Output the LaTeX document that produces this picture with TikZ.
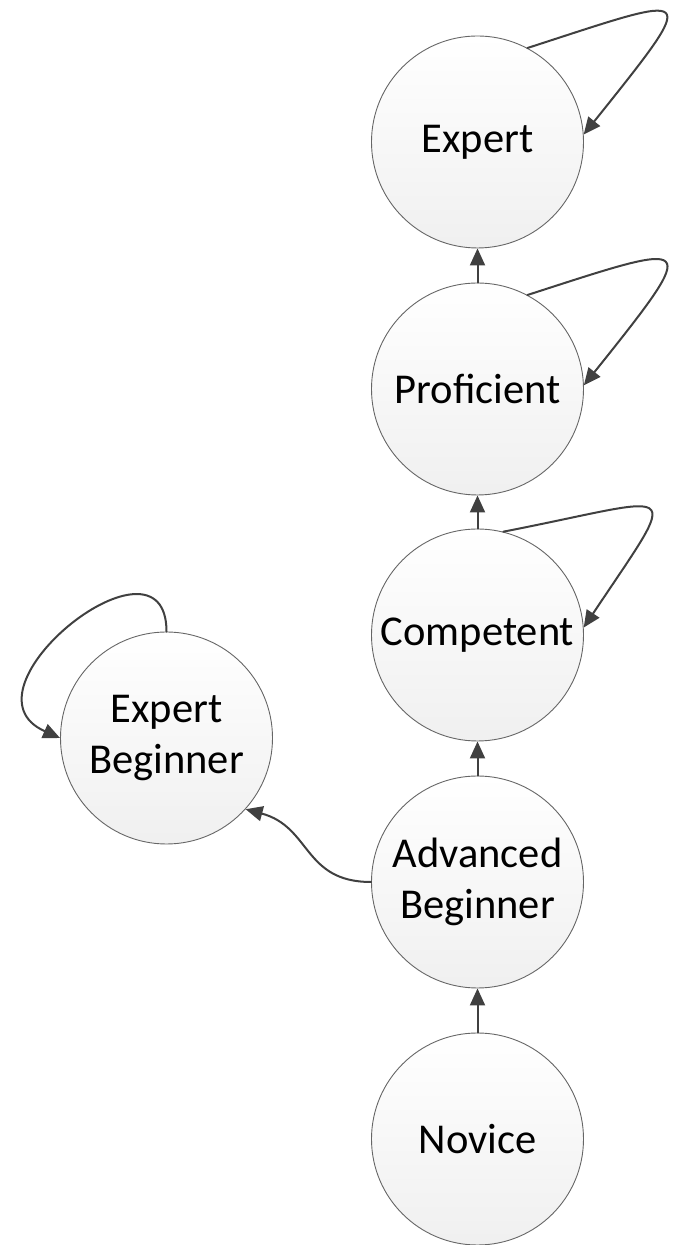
\documentclass[tikz,border=0pt]{standalone}
\usepackage{fontspec}
\setmainfont{Carlito}
\usepackage{tikz}
\usetikzlibrary{arrows.meta}
\definecolor{linegray}{HTML}{404040}
\definecolor{rimgray}{HTML}{666666}

\begin{document}
\begin{tikzpicture}[line cap=round,line join=round,>={Triangle[length=17pt,width=15pt]},x=1pt,y=1pt,
  stage/.style={circle,draw=rimgray,line width=0.9pt,top color=white,bottom color=black!6,
    minimum size=212pt,inner sep=0pt,align=center,font=\fontsize{42.5}{51}\selectfont},
  link/.style={->,draw=linegray,fill=linegray,line width=2pt}]
\useasboundingbox (0,0) rectangle (685,1245);
\node[stage] (Expert) at (477.5,1103) {Expert};
\node[stage] (Proficient) at (477.5,856) {Proficient};
\node[stage] (Competent) at (477.5,610) {Competent};
\node[stage] (Advanced) at (477.5,363) {Advanced\\Beginner};
\node[stage] (Novice) at (477.5,106) {Novice};
\node[stage] (ExpBeginner) at (166.5,507) {Expert\\Beginner};
\draw[link] (Novice) -- (Advanced);
\draw[link] (Advanced) -- (Competent);
\draw[link] (Competent) -- (Proficient);
\draw[link] (Proficient) -- (Expert);
\draw[link,fill=none] (Expert.62) .. controls +(170,55) and +(120,150) .. (Expert.4);
\draw[link,fill=none] (Proficient.62) .. controls +(170,55) and +(120,150) .. (Proficient.2);
\draw[link,fill=none] (Competent.76) .. controls +(180,35) and +(100,150) .. (Competent.4);
\draw[link,fill=none] (ExpBeginner.90) .. controls +(0,112) and +(-108,48) .. (ExpBeginner.180);
\draw[link,fill=none] (Advanced.180) to[out=180,in=-15,looseness=1.2] (ExpBeginner.-42);
\end{tikzpicture}
\end{document}
